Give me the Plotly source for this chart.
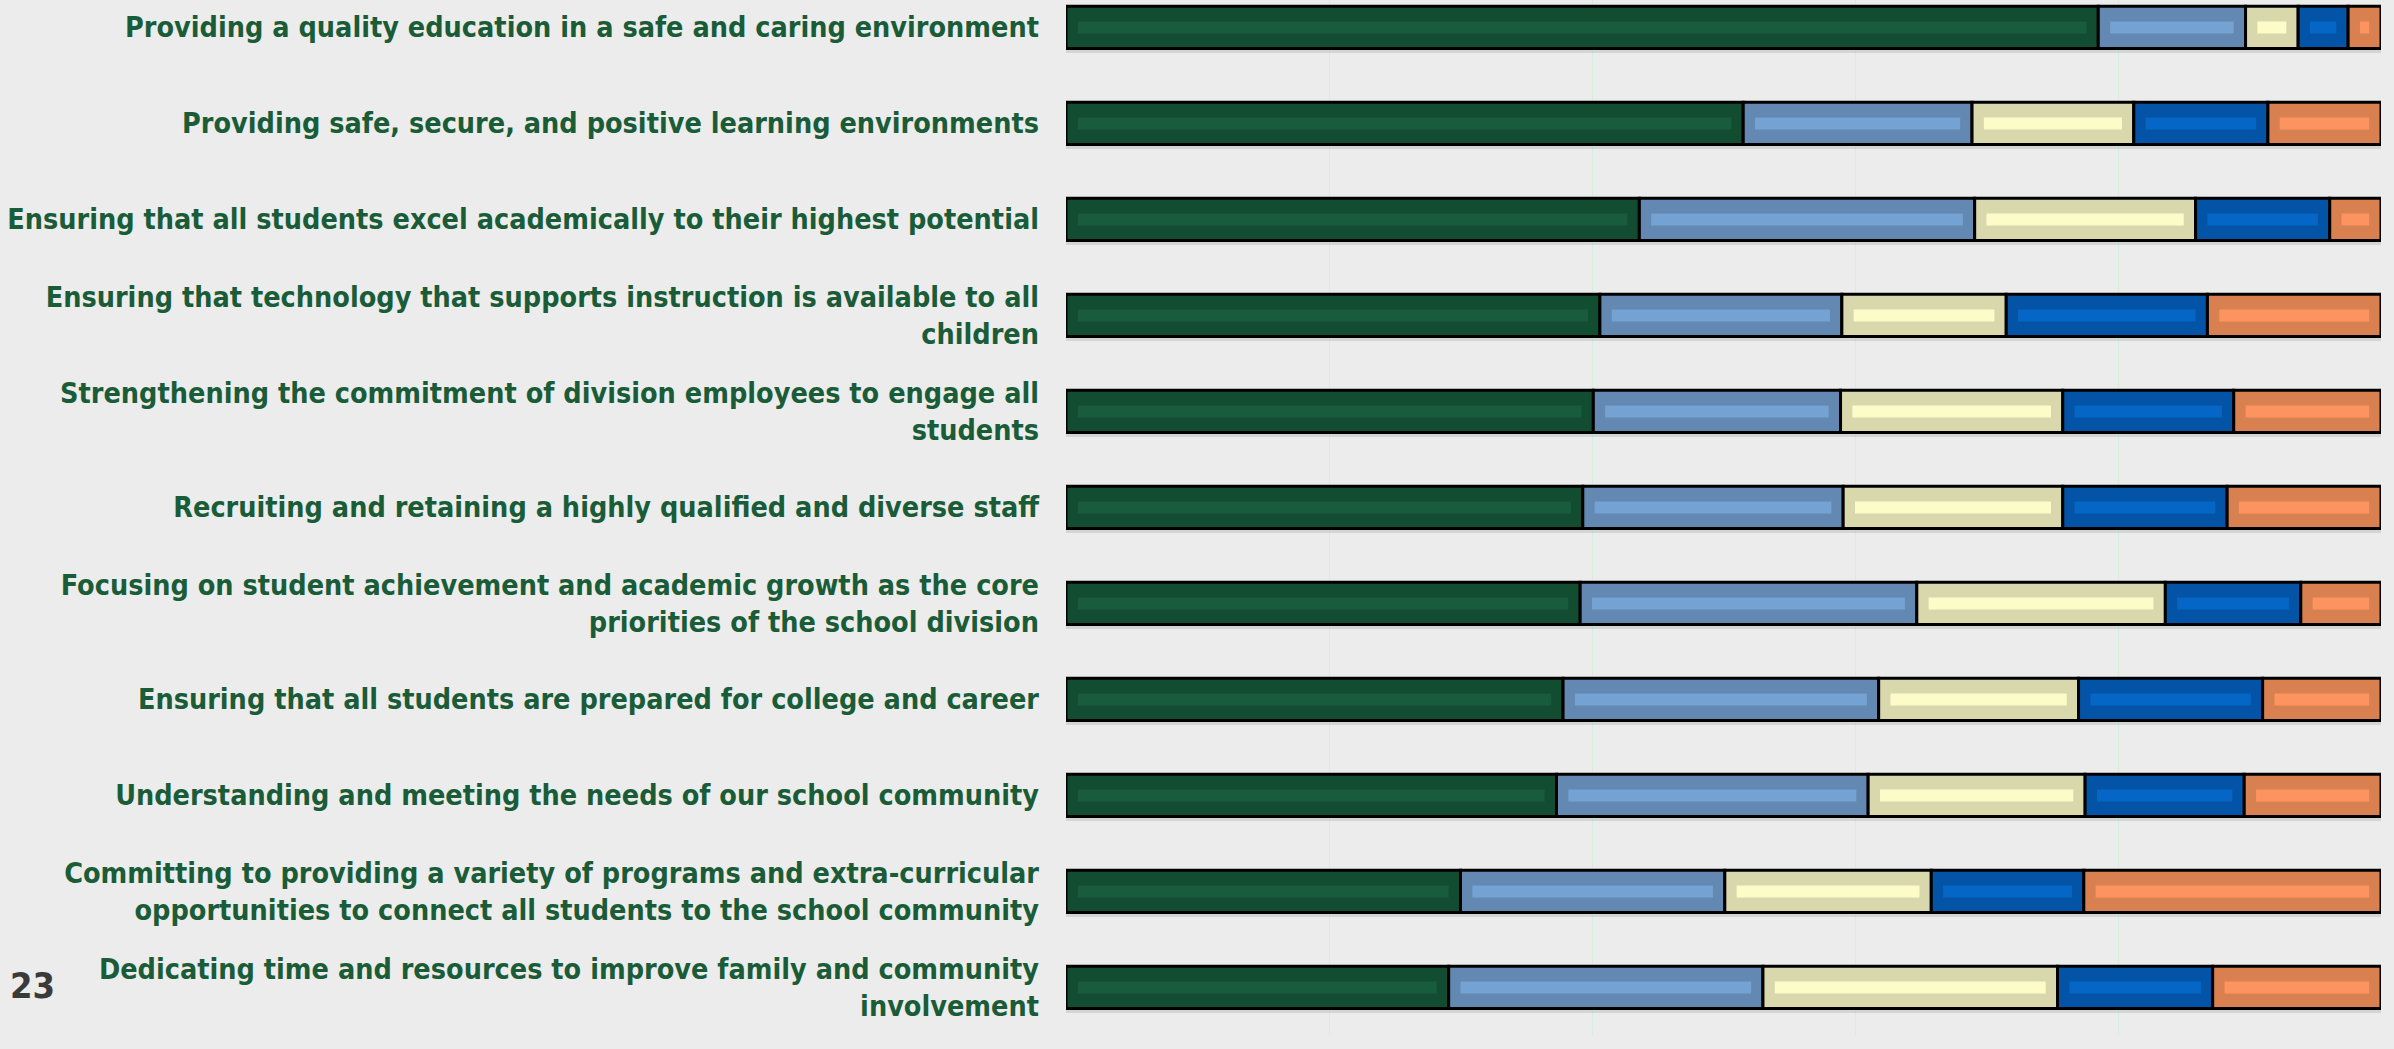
import plotly.graph_objects as go

# categories, top to bottom
priorities = [
    "Providing a quality education in a safe and caring environment",
    "Providing safe, secure, and positive learning environments",
    "Ensuring that all students excel academically to their highest potential",
    "Ensuring that technology that supports instruction is available to all<br>children",
    "Strengthening the commitment of division employees to engage all<br>students",
    "Recruiting and retaining a highly qualified and diverse staff",
    "Focusing on student achievement and academic growth as the core<br>priorities of the school division",
    "Ensuring that all students are prepared for college and career",
    "Understanding and meeting the needs of our school community",
    "Committing to providing a variety of programs and extra-curricular<br>opportunities to connect all students to the school community",
    "Dedicating time and resources to improve family and community<br>involvement",
]

# share of responses (%) per rating
rating_1 = [78.5, 51.5, 43.6, 40.6, 40.1, 39.3, 39.1, 37.8, 37.3, 30.0, 29.1]
rating_2 = [11.2, 17.4, 25.5, 18.4, 18.8, 19.8, 25.6, 24.0, 23.7, 20.1, 23.9]
rating_3 = [4.0, 12.3, 16.8, 12.5, 16.9, 16.7, 18.9, 15.2, 16.5, 15.7, 22.4]
rating_4 = [3.8, 10.2, 10.2, 15.3, 13.0, 12.5, 10.3, 14.0, 12.1, 11.6, 11.8]
rating_5 = [2.5, 8.6, 3.9, 13.2, 11.2, 11.7, 6.1, 9.0, 10.4, 22.6, 12.8]

series = [
    ("Rating 1", rating_1, "#134d31", "#185c3d"),
    ("Rating 2", rating_2, "#6389b3", "#73a2d3"),
    ("Rating 3", rating_3, "#d9d8ac", "#fdfcc9"),
    ("Rating 4", rating_4, "#0354a6", "#0566c6"),
    ("Rating 5", rating_5, "#d98051", "#fb945f"),
]

BG = "#ececec"
LABEL_GREEN = "#1a5c38"
FONT = "Liberation Sans Narrow, DejaVu Sans Condensed, sans-serif"
BAR_W = 0.44
STRIPE_W = 0.125
INSET = 0.9  # stripe inset, in % units

fig = go.Figure()

# soft shadow under each bar
fig.add_trace(go.Bar(
    y=priorities,
    x=[sum(s[1][i] for s in series) for i in range(len(priorities))],
    orientation="h",
    width=BAR_W,
    offset=-BAR_W / 2 + 0.045,
    marker=dict(color="rgba(0,0,0,0.10)", line=dict(width=0)),
    showlegend=False,
    hoverinfo="skip",
))

# main segments
bases = [0.0] * len(priorities)
seg_bases = []
for name, vals, col, _ in series:
    seg_bases.append(list(bases))
    fig.add_trace(go.Bar(
        y=priorities,
        x=vals,
        base=list(bases),
        orientation="h",
        name=name,
        width=BAR_W,
        marker=dict(color=col, line=dict(color="#000000", width=3)),
        showlegend=False,
    ))
    bases = [b + v for b, v in zip(bases, vals)]

# lighter inner stripe (bevel look)
for (name, vals, _, light), b0 in zip(series, seg_bases):
    fig.add_trace(go.Bar(
        y=priorities,
        x=[max(v - 2 * INSET, 0.05) for v in vals],
        base=[b + INSET for b in b0],
        orientation="h",
        width=STRIPE_W,
        marker=dict(color=light, line=dict(width=0)),
        showlegend=False,
        hoverinfo="skip",
    ))

# slide number
fig.add_annotation(
    text="23", xref="paper", yref="paper", x=-0.786, y=0.048,
    xanchor="center", yanchor="middle", showarrow=False,
    font=dict(family=FONT, size=36, color="#3a3a3a", weight="bold"),
)

fig.update_layout(
    width=2394,
    height=1049,
    barmode="overlay",
    paper_bgcolor=BG,
    plot_bgcolor=BG,
    margin=dict(l=1066, r=13, t=0, b=14, autoexpand=False),
    xaxis=dict(
        range=[0, 100],
        showticklabels=False,
        showgrid=True,
        gridcolor="#d3efe0",
        gridwidth=1,
        dtick=20,
        zeroline=False,
        showline=False,
    ),
    yaxis=dict(
        type="category",
        range=[10.495, -0.286],
        automargin=False,
        showgrid=False,
        showline=False,
        ticks="",
        ticklabelstandoff=26,
        tickfont=dict(family=FONT, size=28.5, color=LABEL_GREEN, weight="bold"),
    ),
)

fig.write_html(
    "out.html",
    config={"displayModeBar": False},
    post_script="document.body.style.margin='0';document.body.style.background='#ececec';",
)
